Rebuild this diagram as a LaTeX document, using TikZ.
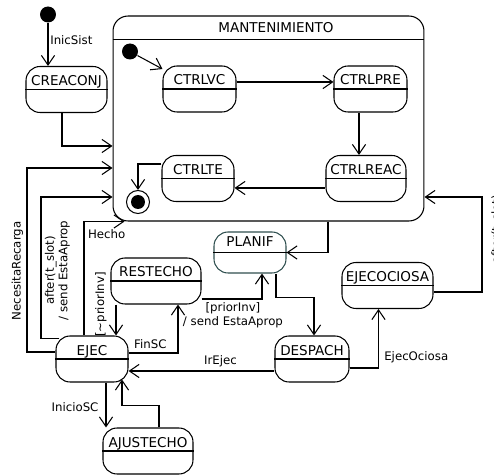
\documentclass[tikz,border=0pt]{standalone}
\usepackage{fontspec}
\setmainfont{DejaVu Sans}
\usetikzlibrary{arrows.meta,calc,positioning}

\newcommand{\festado}{\fontsize{7.7pt}{9pt}\selectfont}
\newcommand{\fetiq}{\fontsize{6.7pt}{7.6pt}\selectfont}
\definecolor{bordeplanif}{RGB}{47,79,79}

\tikzset{
  estado/.style={draw, rounded corners=0.28cm, inner xsep=0pt, inner ysep=0pt,
    text height=0.38cm, text depth=0.54cm, font=\festado},
  pseudo/.style={circle, fill, inner sep=0pt, minimum size=0.32cm},
  estfinal/.style={circle, draw, inner sep=0pt, minimum size=0.46cm,
    path picture={\fill (path picture bounding box.center) circle (0.14cm);}},
  etiq/.style={font=\fetiq, inner sep=2pt}
}

\begin{document}
\begin{tikzpicture}[x=0.02cm,y=-0.02cm,>={Straight Barb[length=5.5pt,width=7.5pt]},line width=0.6pt]
  \useasboundingbox (0,0) rectangle (494,476);

  % estado compuesto
  \node[draw, rounded corners=0.3cm, minimum width=6.22cm, minimum height=4.1cm] (mant) at (268.5,118.5) {};
  \node[font=\festado] (mantit) at (276,28) {MANTENIMIENTO};
  \draw ([yshift=-0.48cm]mant.north west) -- ([yshift=-0.48cm]mant.north east);

  % estados
  \node[pseudo] (ini)  at (48,14.5) {};
  \node[estado, minimum width=1.62cm] (creaconj)   at (66.5,89.5)  {CREACONJ};
  \node[pseudo] (ini2) at (130,51.5) {};
  \node[estado, minimum width=1.46cm] (ctrlvc)     at (199.5,89)   {CTRLVC};
  \node[estado, minimum width=1.46cm] (ctrlpre)    at (370.5,89)   {CTRLPRE};
  \node[estado, minimum width=1.6cm]  (ctrlreac)   at (366,178.5)  {CTRLREAC};
  \node[estado, minimum width=1.44cm] (ctrlte)     at (198,178.5)  {CTRLTE};
  \node[estfinal] (fin) at (138,202) {};
  \node[estado, draw=bordeplanif, minimum width=1.44cm, text height=0.28cm] (planif) at (250,252.5) {PLANIF};
  \node[estado, minimum width=1.8cm]  (restecho)   at (156,281)    {RESTECHO};
  \node[estado, minimum width=1.82cm] (ejecociosa) at (387.5,285.5) {EJECOCIOSA};
  \node[estado, minimum width=1.44cm] (ejec)       at (92,359)     {EJEC};
  \node[estado, minimum width=1.48cm] (despach)    at (312,359)    {DESPACH};
  \node[estado, minimum width=1.8cm]  (ajustecho)  at (148,451)    {AJUSTECHO};

  \foreach \n in {creaconj,ctrlvc,ctrlpre,ctrlreac,ctrlte,planif,restecho,ejecociosa,ejec,despach,ajustecho}
    \draw (\n.west) -- (\n.east);

  % dentro de MANTENIMIENTO
  \draw[->] (ini) -- node[etiq, right, pos=0.4, inner sep=1pt] {InicSist} (ini |- creaconj.north);
  \draw[->] ([xshift=-0.09cm]creaconj.south) |- ([yshift=-0.55cm]mant.west);
  \draw[->] (ini2) -- (ctrlvc);
  \draw[->] ([yshift=0.14cm]ctrlvc.east) -- ([yshift=0.14cm]ctrlpre.west);
  \draw[->] ([xshift=-0.23cm]ctrlpre.south) -- ([xshift=-0.23cm]ctrlpre.south |- ctrlreac.north);
  \draw[->] ([yshift=-0.19cm]ctrlreac.west) -- ([yshift=-0.19cm]ctrlte.east);
  \draw[->] ([yshift=0.29cm]ctrlte.west) -| (fin);

  % desde EJEC
  \coordinate (nr) at (27,168);
  \coordinate (ts) at (41,197);
  \draw[->] ([yshift=0.14cm]ejec.west) -| node[etiq, pos=0.72, above, sloped] {NecesitaRecarga} (nr) -- (nr -| mant.west);
  \draw[->] ([xshift=0.08cm,yshift=-0.06cm]ejec.north west) -| node[etiq, pos=0.74, below, sloped, align=center] {after(t\_slot)\\/ send EstaAprop} (ts) -- (ts -| mant.west);
  \draw[->] ([xshift=-0.16cm]ejec.north) |- node[etiq, pos=0.78, below, inner sep=4pt] {Hecho} ([xshift=0.24cm]mant.south west);
  \draw[->] ([yshift=0.12cm]ejec.east) -| node[etiq, pos=0.22, above] {FinSC} ([xshift=0.44cm]restecho.south);
  \draw[->] ([xshift=-0.8cm]restecho.south) -- node[etiq, pos=0, rotate=90, anchor=south, inner sep=5pt] {[\textasciitilde priorInv]} ([xshift=-0.8cm]restecho.south |- ejec.north);
  \draw[->] ([yshift=-0.36cm]restecho.east) -| node[etiq, pos=0.26, below, align=center] {[priorInv]\\/ send EstaAprop} ([xshift=0.24cm]planif.south);

  % PLANIF, DESPACH
  \draw[->] ([xshift=1.19cm]mant.south) |- (planif);
  \draw[->] ([xshift=0.52cm]planif.south) -- ++(0,24) -| ([xshift=0.04cm]despach.north);
  \draw[->] ([yshift=-0.24cm]despach.west) -- node[etiq, pos=0.37, above] {IrEjec} ([yshift=-0.24cm]despach.west -| ejec.east);
  \draw[->] ([yshift=-0.18cm]despach.east) -| node[etiq, pos=0.59, right, inner sep=3pt] {EjecOciosa} ([xshift=-0.18cm]ejecociosa.south);
  \coordinate (as) at (482,197);
  \draw[->] ([yshift=-0.13cm]ejecociosa.east) -| node[etiq, pos=0.83, below, sloped, inner sep=5pt] {after(t\_slot)} (as) -- (as -| mant.east);

  % AJUSTECHO
  \draw[->] ([xshift=0.28cm]ejec.south) -- node[etiq, pos=0.54, left, inner sep=4pt] {InicioSC} ([xshift=0.28cm]ejec.south |- ajustecho.north);
  \draw[->] ([xshift=0.22cm]ajustecho.north) -- ++(0,-22) -| ([xshift=0.6cm,yshift=0.06cm]ejec.south);
\end{tikzpicture}
\end{document}
